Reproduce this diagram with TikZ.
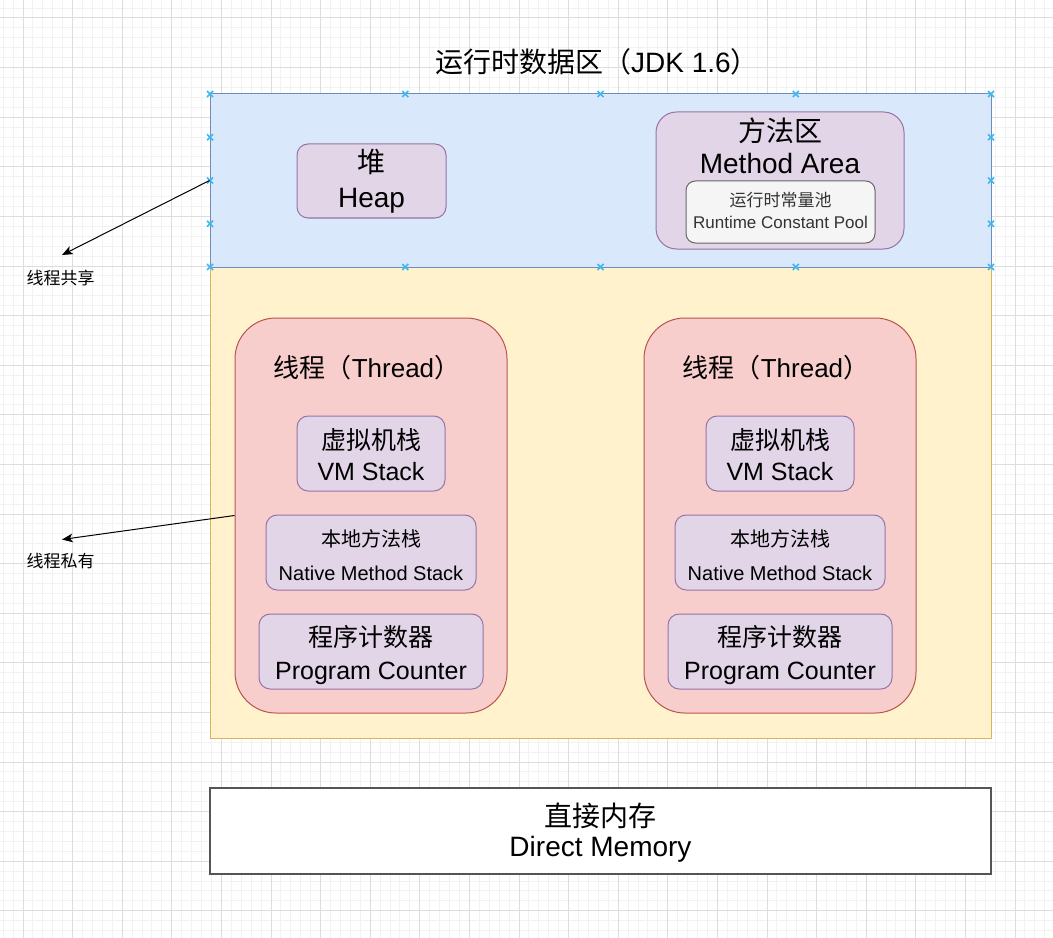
\documentclass[tikz,border=0pt]{standalone}
\usepackage{fontspec}
\setmainfont{Liberation Sans}
\newfontfamily\cjk{Noto Sans CJK SC}
\usetikzlibrary{arrows.meta}
\definecolor{blueF}{HTML}{DAE8FC}\definecolor{blueD}{HTML}{6C8EBF}
\definecolor{yelF}{HTML}{FFF2CC}\definecolor{yelD}{HTML}{D6B656}
\definecolor{redF}{HTML}{F8CECC}\definecolor{redD}{HTML}{B85450}
\definecolor{purF}{HTML}{E1D5E7}\definecolor{purD}{HTML}{9673A6}
\definecolor{gryF}{HTML}{F5F5F5}\definecolor{gryD}{HTML}{666666}
\definecolor{txtG}{HTML}{333333}
\definecolor{gridMin}{HTML}{F2F2F2}\definecolor{gridMaj}{HTML}{DDDDDD}
\definecolor{markC}{HTML}{3CB8F0}
\definecolor{dmD}{HTML}{555555}
\begin{document}
\begin{tikzpicture}[x=0.75pt,y=-0.75pt,
  minorgrid/.style={draw=gridMin,line width=0.75pt},
  majorgrid/.style={draw=gridMaj,line width=0.75pt},
  area/.style={draw,line width=0.75pt,inner sep=0pt,rectangle},
  rbox/.style={draw,line width=0.75pt,inner sep=0pt,rectangle,rounded corners=#1},
  lbl/.style={anchor=base,inner sep=0pt},
  fA/.style={font=\fontsize{21}{25}\selectfont},
  fB/.style={font=\fontsize{19.5}{23}\selectfont},
  fC/.style={font=\fontsize{18.75}{22}\selectfont},
  fD/.style={font=\fontsize{15}{18}\selectfont},
  fE/.style={font=\fontsize{12.75}{15}\selectfont},
  cA/.style={font=\cjk\fontsize{21}{25}\selectfont},
  cB/.style={font=\cjk\fontsize{19.5}{23}\selectfont},
  cC/.style={font=\cjk\fontsize{18.75}{22}\selectfont},
  cD/.style={font=\cjk\fontsize{15}{18}\selectfont},
  cE/.style={font=\cjk\fontsize{12.75}{15}\selectfont},
  marker/.style={draw=markC,line width=1.2pt},
  arr/.style={draw=black,line width=0.75pt,-{Stealth[length=8pt,width=6.5pt,inset=2pt]}}
]
\useasboundingbox (0,0) rectangle (1053,938);
\fill[white] (0,0) rectangle (1053,938);
% grid
\foreach \i in {0,...,105} {\draw[minorgrid] ({3.16+9.92*\i},0) -- ++(0,938);}
\foreach \j in {0,...,93} {\draw[minorgrid] (0,{8.08+9.92*\j}) -- ++(1053,0);}
\foreach \i in {0,...,20} {\draw[majorgrid] ({23+49.6*\i},0) -- ++(0,938);}
\foreach \j in {0,...,18} {\draw[majorgrid] (0,{18+49.6*\j}) -- ++(1053,0);}

% title
\node[lbl,fA] (title) at (597,73) {{\cjk 运行时数据区（}JDK 1.6{\cjk ）}};

% shared area
\node[area,fill=blueF,draw=blueD,minimum width=585.75pt,minimum height=129.75pt] (blue) at (600.5,180.5) {};
% private area
\node[area,fill=yelF,draw=yelD,minimum width=585.75pt,minimum height=353.25pt] (yellow) at (600.5,502.5) {};
% redraw blue bottom edge over yellow
\draw[blueD,line width=0.75pt] (blue.south west) -- (blue.south east);

% connection markers on blue box
\foreach \mx in {210,405.25,600.5,795.75,991} {
  \foreach \my in {94,267} {
    \draw[marker] (\mx-3,\my-3) -- (\mx+3,\my+3) (\mx-3,\my+3) -- (\mx+3,\my-3);
  }
}
\foreach \mx in {210,991} {
  \foreach \my in {137.25,180.5,223.75} {
    \draw[marker] (\mx-3,\my-3) -- (\mx+3,\my+3) (\mx-3,\my+3) -- (\mx+3,\my-3);
  }
}

% Heap
\node[rbox=8.25pt,fill=purF,draw=purD,minimum width=111.75pt,minimum height=55.5pt] (heap) at (371.5,181) {};
\node[lbl,cA] (heapC) at (371.5,172.5) {堆};
\node[lbl,fA] (heapE) at (371.5,208) {Heap};

% Method area
\node[rbox=15.4pt,fill=purF,draw=purD,minimum width=186pt,minimum height=102.75pt] (method) at (780,180.5) {};
\node[lbl,cA] (methodC) at (780,141.5) {方法区};
\node[lbl,fA] (methodE) at (780,174) {Method Area};
\node[rbox=7pt,fill=gryF,draw=gryD,minimum width=141.75pt,minimum height=46.5pt] (rcp) at (780.5,212) {};
\node[lbl,cE,text=txtG] (rcpC) at (780.5,207) {运行时常量池};
\node[lbl,fE,text=txtG] (rcpE) at (780.5,228.3) {Runtime Constant Pool};

% Threads
\foreach \n/\cx in {1/371,2/780} {
  \node[rbox=30.6pt,fill=redF,draw=redD,minimum width=204pt,minimum height=296.25pt] (thread\n) at (\cx,515.5) {};
  \node[lbl,fB] (threadT\n) at (\cx-4,377.5) {{\cjk 线程（}Thread{\cjk ）}};
  \node[rbox=8.4pt,fill=purF,draw=purD,minimum width=111pt,minimum height=56.25pt] (vm\n) at (\cx,453.5) {};
  \node[lbl,cC] (vmC\n) at (\cx,449) {虚拟机栈};
  \node[lbl,fC] (vmE\n) at (\cx,480) {VM Stack};
  \node[rbox=8.4pt,fill=purF,draw=purD,minimum width=157.5pt,minimum height=56.25pt] (nms\n) at (\cx,552.5) {};
  \node[lbl,cD] (nmsC\n) at (\cx,546.8) {本地方法栈};
  \node[lbl,fD] (nmsE\n) at (\cx,580) {Native Method Stack};
  \node[rbox=8.4pt,fill=purF,draw=purD,minimum width=168pt,minimum height=56.25pt] (pc\n) at (\cx,651.5) {};
  \node[lbl,cC] (pcC\n) at (\cx,646.7) {程序计数器};
  \node[lbl,fC] (pcE\n) at (\cx,679) {Program Counter};
}

% Direct memory
\node[area,fill=white,draw=dmD,line width=1.2pt,minimum width=585.75pt,minimum height=64.5pt] (direct) at (600.5,831) {};
\node[lbl,cA] (directC) at (600.5,826) {直接内存};
\node[lbl,fA] (directE) at (600.5,856.7) {Direct Memory};

% side labels and arrows
\node[lbl,cE] (sharedL) at (60.5,284.3) {线程共享};
\node[lbl,cE] (privL) at (60.5,567.7) {线程私有};
\coordinate (tipA) at (62,255);
\coordinate (tipB) at (62,539.5);
\draw[arr] (blue.west) -- (tipA);
\draw[arr] (thread1.west) -- (tipB);
\end{tikzpicture}
\end{document}
